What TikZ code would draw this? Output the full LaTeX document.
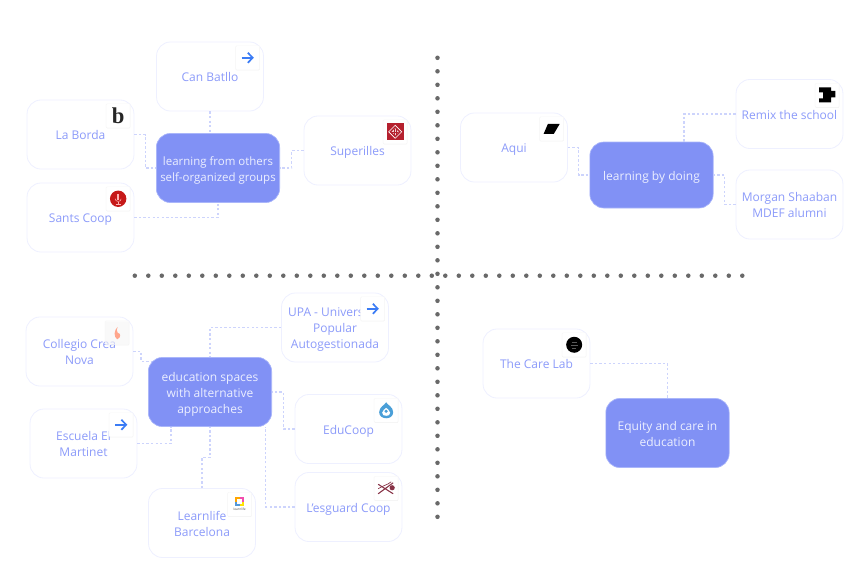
\documentclass[tikz,border=0pt]{standalone}
\usepackage{fontspec}
\setmainfont{Open Sans}
\newfontfamily\logofont{Liberation Serif}
\usepackage{tikz}
\usetikzlibrary{arrows.meta,calc,shadows}
\usepackage{xcolor}
\definecolor{hubblue}{RGB}{129,145,245}
\definecolor{hubedge}{RGB}{170,182,250}
\definecolor{hubtext}{RGB}{236,239,255}
\definecolor{cardedge}{RGB}{238,240,255}
\definecolor{cardtext}{RGB}{140,155,250}
\definecolor{linkblue}{RGB}{205,212,252}
\definecolor{dotgray}{RGB}{105,105,105}
\definecolor{arrowblue}{RGB}{59,124,245}
\definecolor{logored}{RGB}{181,32,46}
\definecolor{logomaroon}{RGB}{135,50,70}
\definecolor{dropblue}{RGB}{74,159,216}
\newcommand{\lineup}{\rule{0pt}{9.75pt}}
\tikzset{
  cardnode/.style={draw=cardedge,fill=white,line width=0.6pt,rounded corners=10.5pt,minimum width=80.2pt,minimum height=51.8pt,
    align=center,inner sep=0pt,text=cardtext,font=\fontsize{9}{12}\selectfont,
    execute at begin node={\rule{0pt}{9.75pt}},execute at end node={\rule[-2.25pt]{0pt}{2.25pt}}},
  hubnode/.style={cardnode,draw=hubedge,fill=hubblue,line width=0.5pt,minimum width=92.5pt,text=hubtext},
  badge/.style={fill=white,draw=black!3,line width=0.3pt,minimum size=18pt,inner sep=0pt,anchor=north east,rounded corners=0.8pt,
    drop shadow={shadow xshift=0pt,shadow yshift=-0.5pt,opacity=0.06,fill=black}},
  link/.style={draw=linkblue,line width=0.9pt,dash pattern=on 1.8pt off 1.6pt},
  dotline/.style={draw=dotgray,line width=3.4pt,line cap=round,dash pattern=on 0pt off 10.125pt},
  iconarrow/.style={-{Straight Barb[length=3.6pt,width=7.6pt]},draw=arrowblue,line width=1.25pt},
  hvh/.style={to path={-| ($(\tikztostart)!0.5!(\tikztotarget)$) |- (\tikztotarget)}},
  vhv/.style={to path={|- ($(\tikztostart)!0.5!(\tikztotarget)$) -| (\tikztotarget)}}
}

\begin{document}
\begin{tikzpicture}[x=0.75pt,y=-0.75pt]
  \useasboundingbox (0,0) rectangle (868,572);
  % dotted cross
  \coordinate (crosstop) at (437.5,57.8);
  \coordinate (crossbottom) at (437.5,517.1);
  \coordinate (crossleft) at (134.8,275.7);
  \coordinate (crossright) at (742.4,275.7);
  \draw[dotline] (crosstop) -- (crossbottom);
  \draw[dotline] (crossleft) -- (crossright);

  % top left
  \node[hubnode,font=\fontsize{8.6}{12}\selectfont] (hubothers) at (218,168) {\lineup learning from others\\self-organized groups};
  \node[cardnode] (canbatllo) at (210,76.5) {Can Batllo};
  \node[cardnode] (laborda) at (80.5,134.5) {La Borda};
  \node[cardnode] (santscoop) at (80.5,217.5) {Sants Coop};
  \node[cardnode] (superilles) at (357.5,150.5) {Superilles};
  \draw[link] (canbatllo.south) -- (canbatllo.south |- hubothers.north);
  \draw[link] (laborda.east) to[hvh] (hubothers.west);
  \draw[link] (superilles.west) to[hvh] (hubothers.east);
  \draw[link] (santscoop.east) -| (hubothers.south);

  % top right
  \node[hubnode,minimum height=49.5pt] (hubdoing) at (651.5,175) {learning by doing};
  \node[cardnode] (aqui) at (514,147.5) {Aqui};
  \node[cardnode] (remix) at (789.5,114) {Remix the school};
  \node[cardnode] (morgan) at (789.5,204.5) {\lineup Morgan Shaaban\\MDEF alumni};
  \draw[link] (aqui.east) to[hvh] (hubdoing.west);
  \draw[link] (remix.west) -| ([xshift=24.4pt]hubdoing.north);
  \draw[link] (morgan.west) to[hvh] (hubdoing.east);

  % bottom left
  \node[hubnode] (hubspaces) at (210,392) {\lineup education spaces\\with alternative\\approaches};
  \node[cardnode] (collegio) at (79.5,351.5) {\lineup Collegio Crea\\Nova};
  \node[cardnode] (upa) at (335,327.5) {\lineup UPA - Universitat\\Popular\\Autogestionada};
  \node[cardnode] (martinet) at (83.5,443.5) {\lineup Escuela El\\Martinet};
  \node[cardnode] (educoop) at (348.5,429) {EduCoop};
  \node[cardnode] (esguard) at (348.5,507) {L'esguard Coop};
  \node[cardnode] (learnlife) at (202,523) {\lineup Learnlife\\Barcelona};
  \draw[link] (collegio.east) -- ++(7.7,0) |- ([shift={(3pt,-3pt)}]hubspaces.north west);
  \draw[link] (upa.west) -| (hubspaces.north);
  \draw[link] (martinet.east) -| ([xshift=-29.2pt]hubspaces.south);
  \draw[link] (educoop.west) to[hvh] (hubspaces.east);
  \draw[link] (esguard.west) -| ([xshift=41.8pt]hubspaces.south);
  \draw[link] (learnlife.north) to[vhv] (hubspaces.south);

  % bottom right
  \node[hubnode] (hubcare) at (667.5,433) {\lineup Equity and care in\\education};
  \node[cardnode] (carelab) at (536.5,363.5) {The Care Lab};
  \draw[link] (carelab.east) -| (hubcare.north);

  % badges
  \node[badge] (canbatlloicon) at ([shift={(-3pt,-3pt)}]canbatllo.north east) {};
  \node[badge] (labordaicon) at ([shift={(-3pt,-3pt)}]laborda.north east) {\logofont\bfseries\fontsize{17}{17}\selectfont\textcolor{black!85}{b}};
  \node[badge] (santsicon) at ([shift={(-3pt,-3pt)}]santscoop.north east) {};
  \node[badge] (superillesicon) at ([shift={(-3pt,-3pt)}]superilles.north east) {};
  \node[badge] (aquiicon) at ([shift={(-3pt,-3pt)}]aqui.north east) {};
  \node[badge] (remixicon) at ([shift={(-3pt,-3pt)}]remix.north east) {};
  \node[badge,fill opacity=0.6] (collegioicon) at ([shift={(-3pt,-3pt)}]collegio.north east) {};
  \node[badge] (upaicon) at ([shift={(-3pt,-3pt)}]upa.north east) {};
  \node[badge] (martineticon) at ([shift={(-3pt,-3pt)}]martinet.north east) {};
  \node[badge] (educoopicon) at ([shift={(-3pt,-3pt)}]educoop.north east) {};
  \node[badge] (esguardicon) at ([shift={(-3pt,-3pt)}]esguard.north east) {};
  \node[badge] (learnlifeicon) at ([shift={(-3pt,-3pt)}]learnlife.north east) {};
  \node[badge] (carelabicon) at ([shift={(-3pt,-3pt)}]carelab.north east) {};

  % icons
  \draw[iconarrow] ([xshift=-4.6pt]canbatlloicon.center) -- ([xshift=4.6pt]canbatlloicon.center);
  \draw[iconarrow] ([xshift=-4.6pt]upaicon.center) -- ([xshift=4.6pt]upaicon.center);
  \draw[iconarrow] ([xshift=-4.6pt]martineticon.center) -- ([xshift=4.6pt]martineticon.center);
  \begin{scope}[shift={(santsicon.center)}]
    \fill[red!75!black!90] (0,0) circle (8.2);
    \fill[white!70!red] (-1.2,-4.5) rectangle (1.2,1.5);
    \draw[white!70!red,line width=0.4pt] (-3,0) .. controls (-3,3.5) and (3,3.5) .. (3,0);
    \draw[white!70!red,line width=0.4pt] (0,3) -- (0,5) (-2.5,5) -- (2.5,5);
  \end{scope}
  \begin{scope}[shift={(superillesicon.center)}]
    \fill[logored] (-8.4,-8.4) rectangle (8.4,8.4);
    \draw[white,line width=0.45pt] (0,-6.5) -- (6.5,0) -- (0,6.5) -- (-6.5,0) -- cycle;
    \fill[white!80!logored] (0,-3.6) -- (3.6,0) -- (0,3.6) -- (-3.6,0) -- cycle;
    \draw[logored,line width=0.35pt] (-1.3,-3) -- (-1.3,3) (1.3,-3) -- (1.3,3) (-3,0) -- (3,0);
  \end{scope}
  \begin{scope}[shift={(aquiicon.center)}]
    \fill[black] (-8,5) -- (-3.8,-4.8) -- (8,-4.8) -- (2.2,5) -- cycle;
  \end{scope}
  \begin{scope}[shift={(remixicon.center)}]
    \fill[black] (-8,-8) -- (4,-8) -- (4,-4.5) -- (8.3,-4.5) -- (8.3,2) -- (4,2) -- (4,7) -- (-8,7) -- (-8,3) -- (-4,3)
      -- (-4,-3) -- (-8,-3) -- cycle;
  \end{scope}
  \begin{scope}[shift={(collegioicon.center)}]
    \fill[orange!45!red!45] (0.5,-6) .. controls (-3.5,-2) and (-3.5,4) .. (0,6.5)
      .. controls (4,5) and (4,0.5) .. (0.5,0) .. controls (-0.8,-1.5) and (-0.5,-4) .. (0.5,-6) -- cycle;
  \end{scope}
  \begin{scope}[shift={(educoopicon.center)}]
    \fill[dropblue] (0,-8) .. controls (1.5,-5) and (7,-3.5) .. (7,2)
      .. controls (7,6) and (3.5,8) .. (0,8) .. controls (-3.5,8) and (-7,6) .. (-7,2)
      .. controls (-7,-3.5) and (-1.5,-5) .. (0,-8) -- cycle;
    \fill[white] (0,-2.5) .. controls (1,-1) and (4,0) .. (4,2.5) .. controls (4,5) and (2,5.5) .. (0,5.5)
      .. controls (-2,5.5) and (-4,5) .. (-4,2.5) .. controls (-4,0) and (-1,-1) .. (0,-2.5) -- cycle;
    \fill[dropblue] (0,1) circle (1.7);
  \end{scope}
  \begin{scope}[shift={(esguardicon.center)}]
    \draw[logomaroon,line width=0.8pt] (-8,-4) -- (7,5.5) (-8,5.5) -- (7,-5.5);
    \draw[logomaroon,line width=0.5pt] (-8,0.5) .. controls (-3,-3) and (1,-3) .. (5,-6.5);
    \fill[logomaroon] (6,-0.5) circle (2.6);
  \end{scope}
  \begin{scope}[shift={(learnlifeicon.center)}]
    \fill[orange!70!yellow] (-4.5,-7) rectangle (0,-2.5);
    \fill[magenta!70] (0,-7) rectangle (4.5,-2.5);
    \fill[cyan!60!blue!70] (-4.5,-2.5) rectangle (0,2);
    \fill[yellow!85!orange] (0,-2.5) rectangle (4.5,2);
    \fill[white] (-2.3,-4.8) rectangle (2.3,-0.2);
    \node[inner sep=0pt,text=black!70,font=\fontsize{2.4}{2.4}\selectfont] (learnlifelogo) at (0,5.5) {learnlife};
  \end{scope}
  \begin{scope}[shift={(carelabicon.center)}]
    \fill[black] (0,0) circle (8);
    \draw[black!65,line width=0.3pt] (-2.5,-3) -- (2.5,-3) (-3.5,0) -- (3.5,0) (-2,3) -- (2,3);
  \end{scope}
\end{tikzpicture}
\end{document}
